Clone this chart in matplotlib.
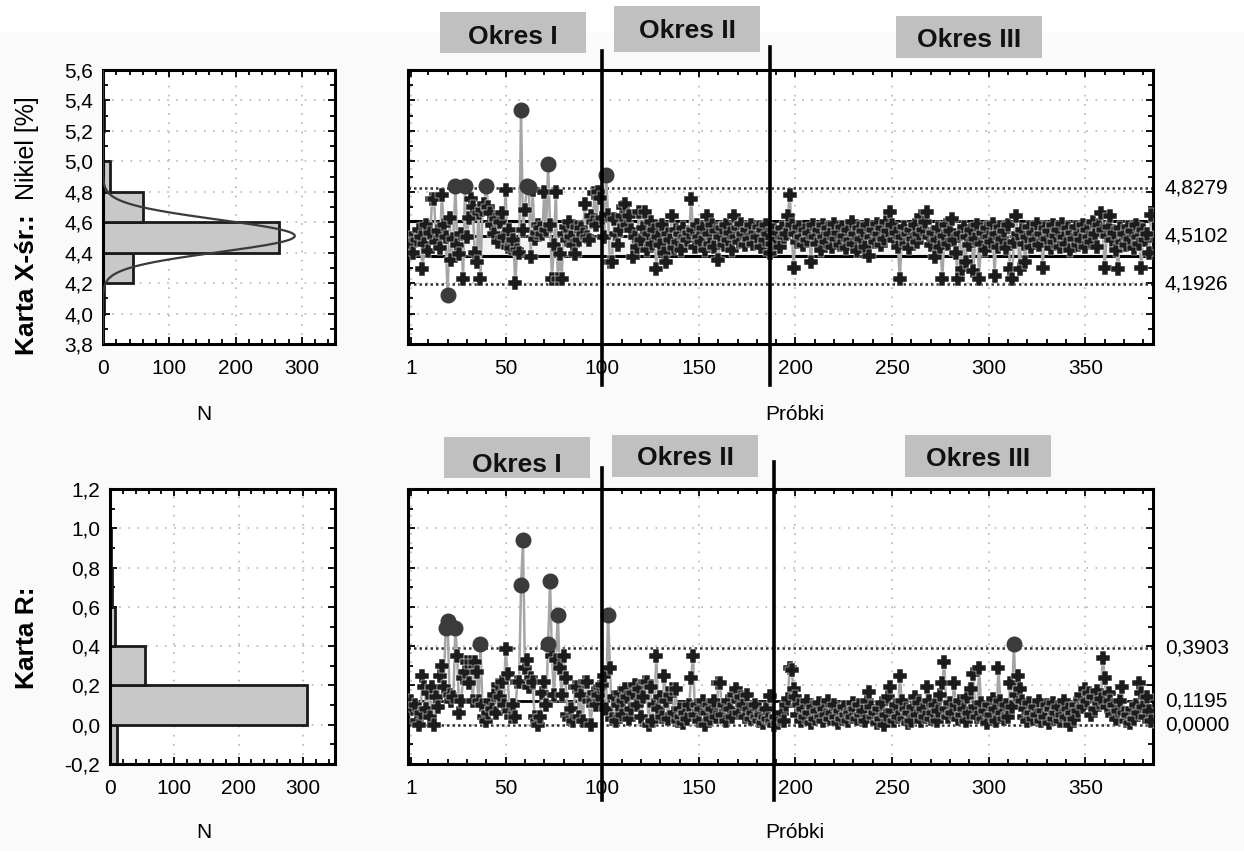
import numpy as np
import matplotlib
matplotlib.use('Agg')
import matplotlib.pyplot as plt
from matplotlib.patches import Rectangle
from matplotlib.lines import Line2D
from matplotlib.path import Path
from matplotlib.transforms import blended_transform_factory as btf
from matplotlib.ticker import MultipleLocator, FixedLocator, FuncFormatter

plt.rcParams['font.family'] = ['Liberation Sans', 'DejaVu Sans']

# ---------------- data ----------------
xbar = [
    4.45, 4.40, 4.52, 4.48, 4.55, 4.50, 4.29, 4.46, 4.58, 4.41, 4.53, 4.75, 4.75, 4.47, 4.54, 4.43, 4.78, 4.58, 4.50, 4.12,
    4.63, 4.35, 4.49, 4.84, 4.45, 4.39, 4.52, 4.23, 4.84, 4.50, 4.63, 4.75, 4.70, 4.40, 4.34, 4.66, 4.23, 4.68, 4.72, 4.84,
    4.70, 4.66, 4.58, 4.52, 4.62, 4.47, 4.60, 4.66, 4.50, 4.81, 4.44, 4.55, 4.43, 4.48, 4.20, 4.42, 4.40, 5.34, 4.55, 4.68,
    4.84, 4.83, 4.37, 4.81, 4.49, 4.53, 4.58, 4.56, 4.52, 4.80, 4.55, 4.98, 4.58, 4.23, 4.45, 4.80, 4.23, 4.39, 4.23, 4.52,
    4.57, 4.48, 4.60, 4.50, 4.45, 4.39, 4.57, 4.48, 4.56, 4.52, 4.72, 4.50, 4.48, 4.64, 4.60, 4.79, 4.58, 4.80, 4.76, 4.63,
    4.50, 4.91, 4.65, 4.34, 4.34, 4.62, 4.52, 4.45, 4.55, 4.64, 4.70, 4.72, 4.58, 4.64, 4.55, 4.37, 4.50, 4.44, 4.67, 4.48,
    4.56, 4.67, 4.42, 4.52, 4.60, 4.46, 4.55, 4.29, 4.50, 4.45, 4.58, 4.40, 4.34, 4.52, 4.48, 4.64, 4.43, 4.55, 4.47, 4.52,
    4.42, 4.56, 4.50, 4.48, 4.53, 4.75, 4.55, 4.44, 4.58, 4.50, 4.47, 4.56, 4.42, 4.64, 4.52, 4.46, 4.58, 4.44, 4.54, 4.35,
    4.50, 4.56, 4.45, 4.58, 4.48, 4.53, 4.42, 4.64, 4.50, 4.56, 4.47, 4.59, 4.52, 4.45, 4.55, 4.49, 4.58, 4.46, 4.53, 4.50,
    4.57, 4.44, 4.55, 4.48, 4.58, 4.52, 4.40, 4.46, 4.55, 4.49, 4.53, 4.44, 4.56, 4.50, 4.52, 4.64, 4.78, 4.58, 4.30, 4.52,
    4.47, 4.57, 4.50, 4.45, 4.55, 4.48, 4.53, 4.34, 4.58, 4.50, 4.46, 4.55, 4.42, 4.58, 4.50, 4.47, 4.56, 4.52, 4.44, 4.59,
    4.49, 4.53, 4.45, 4.57, 4.51, 4.43, 4.55, 4.48, 4.60, 4.46, 4.52, 4.41, 4.56, 4.49, 4.54, 4.44, 4.58, 4.38, 4.50, 4.55,
    4.47, 4.59, 4.52, 4.45, 4.56, 4.49, 4.60, 4.54, 4.67, 4.58, 4.48, 4.53, 4.44, 4.23, 4.50, 4.57, 4.46, 4.52, 4.43, 4.55,
    4.49, 4.58, 4.47, 4.52, 4.64, 4.55, 4.60, 4.67, 4.50, 4.45, 4.53, 4.37, 4.48, 4.56, 4.44, 4.23, 4.51, 4.58, 4.46, 4.54,
    4.62, 4.48, 4.40, 4.23, 4.52, 4.29, 4.57, 4.34, 4.50, 4.45, 4.55, 4.28, 4.49, 4.58, 4.23, 4.46, 4.53, 4.42, 4.56, 4.50,
    4.47, 4.59, 4.25, 4.52, 4.44, 4.57, 4.49, 4.54, 4.43, 4.58, 4.29, 4.23, 4.47, 4.64, 4.52, 4.29, 4.55, 4.46, 4.34, 4.50,
    4.57, 4.44, 4.53, 4.48, 4.59, 4.45, 4.52, 4.30, 4.56, 4.49, 4.54, 4.43, 4.58, 4.47, 4.51, 4.55, 4.44, 4.59, 4.50, 4.46,
    4.56, 4.42, 4.53, 4.49, 4.57, 4.45, 4.52, 4.48, 4.58, 4.44, 4.55, 4.50, 4.47, 4.60, 4.52, 4.44, 4.58, 4.66, 4.55, 4.30,
    4.51, 4.57, 4.64, 4.48, 4.53, 4.42, 4.29, 4.56, 4.47, 4.52, 4.45, 4.57, 4.49, 4.54, 4.43, 4.58, 4.50, 4.46, 4.30, 4.55,
    4.48, 4.52, 4.40, 4.65,
]

rng = [
    0.12, 0.08, 0.10, 0.02, 0.00, 0.06, 0.25, 0.19, 0.08, 0.16, 0.04, 0.19, 0.00, 0.14, 0.09, 0.25, 0.30, 0.19, 0.49, 0.53,
    0.15, 0.12, 0.14, 0.49, 0.35, 0.06, 0.12, 0.24, 0.27, 0.32, 0.21, 0.32, 0.12, 0.32, 0.27, 0.12, 0.41, 0.10, 0.04, 0.02,
    0.06, 0.12, 0.08, 0.15, 0.06, 0.20, 0.14, 0.22, 0.10, 0.385, 0.26, 0.07, 0.04, 0.10, 0.04, 0.22, 0.22, 0.71, 0.94, 0.29,
    0.33, 0.19, 0.24, 0.22, 0.04, 0.02, 0.00, 0.04, 0.16, 0.22, 0.10, 0.41, 0.73, 0.35, 0.15, 0.33, 0.56, 0.29, 0.15, 0.35,
    0.24, 0.05, 0.03, 0.08, 0.02, 0.19, 0.19, 0.04, 0.15, 0.02, 0.22, 0.22, 0.12, 0.00, 0.12, 0.16, 0.10, 0.15, 0.19, 0.20,
    0.25, 0.08, 0.56, 0.29, 0.03, 0.14, 0.02, 0.10, 0.16, 0.05, 0.12, 0.18, 0.14, 0.03, 0.08, 0.16, 0.20, 0.10, 0.18, 0.04,
    0.14, 0.22, 0.22, 0.00, 0.19, 0.02, 0.10, 0.35, 0.08, 0.14, 0.04, 0.25, 0.12, 0.03, 0.15, 0.18, 0.06, 0.18, 0.02, 0.08,
    0.04, 0.01, 0.06, 0.03, 0.10, 0.24, 0.35, 0.05, 0.10, 0.02, 0.08, 0.12, 0.00, 0.06, 0.10, 0.03, 0.08, 0.12, 0.04, 0.21,
    0.21, 0.05, 0.10, 0.02, 0.12, 0.08, 0.04, 0.15, 0.18, 0.12, 0.06, 0.14, 0.10, 0.04, 0.15, 0.08, 0.03, 0.06, 0.10, 0.04,
    0.02, 0.05, 0.01, 0.04, 0.08, 0.03, 0.145, 0.02, 0.00, 0.04, 0.01, 0.03, 0.06, 0.02, 0.10, 0.13, 0.29, 0.28, 0.18, 0.14,
    0.05, 0.10, 0.02, 0.08, 0.04, 0.12, 0.06, 0.01, 0.09, 0.03, 0.07, 0.11, 0.04, 0.02, 0.08, 0.05, 0.12, 0.03, 0.06, 0.10,
    0.04, 0.01, 0.07, 0.03, 0.09, 0.05, 0.02, 0.06, 0.04, 0.11, 0.08, 0.03, 0.10, 0.05, 0.07, 0.02, 0.12, 0.165, 0.09, 0.04,
    0.06, 0.01, 0.08, 0.03, 0.11, 0.00, 0.05, 0.14, 0.19, 0.07, 0.02, 0.10, 0.04, 0.25, 0.12, 0.03, 0.08, 0.01, 0.06, 0.02,
    0.09, 0.14, 0.05, 0.11, 0.02, 0.08, 0.04, 0.19, 0.12, 0.03, 0.06, 0.10, 0.02, 0.07, 0.15, 0.21, 0.32, 0.08, 0.04, 0.11,
    0.06, 0.21, 0.10, 0.03, 0.12, 0.05, 0.08, 0.02, 0.14, 0.06, 0.18, 0.26, 0.09, 0.04, 0.29, 0.11, 0.03, 0.07, 0.01, 0.10,
    0.05, 0.13, 0.08, 0.02, 0.29, 0.12, 0.06, 0.03, 0.10, 0.04, 0.21, 0.09, 0.41, 0.15, 0.25, 0.18, 0.12, 0.04, 0.08, 0.02,
    0.11, 0.06, 0.03, 0.09, 0.05, 0.12, 0.02, 0.07, 0.04, 0.10, 0.01, 0.08, 0.11, 0.03, 0.06, 0.09, 0.02, 0.05, 0.12, 0.04,
    0.08, 0.00, 0.06, 0.03, 0.10, 0.07, 0.13, 0.15, 0.09, 0.18, 0.12, 0.16, 0.05, 0.14, 0.08, 0.17, 0.11, 0.13, 0.34, 0.24,
    0.09, 0.16, 0.12, 0.05, 0.10, 0.03, 0.07, 0.12, 0.19, 0.06, 0.02, 0.05, 0.01, 0.08, 0.03, 0.10, 0.06, 0.21, 0.16, 0.09,
    0.04, 0.14, 0.07, 0.02,
]

xbar_ucl, xbar_cl, xbar_lcl = 4.8279, 4.5102, 4.1926
r_ucl, r_cl, r_lcl = 0.3903, 0.1195, 0.0000
xbar_band = (4.375, 4.605)

xbar_hist_edges = [4.0, 4.2, 4.4, 4.6, 4.8, 5.0, 5.2]
xbar_hist_counts = [1, 45, 265, 61, 11, 0, 1]
r_hist_edges = [-0.2, 0.0, 0.2, 0.4, 0.6, 0.8]
r_hist_counts = [11, 306, 54, 7, 3, 1]

period_labels = ['Okres I', 'Okres II', 'Okres III']
top_dividers = [100, 187]
bot_dividers = [100, 189]
sample_ticks = [1, 50, 100, 150, 200, 250, 300, 350]

# ---------------- figure ----------------
W, H = 1244, 851
fig = plt.figure(figsize=(W / 100, H / 100), dpi=100, facecolor='#fafafa')


def fx(px):
    return px / W


def fy(py):
    return 1 - py / H


def box(l, t, r, b):
    return [fx(l), fy(b), (r - l) / W, (b - t) / H]


fig.patches.append(Rectangle((0, fy(32)), 1, 32 / H, transform=fig.transFigure,
                             facecolor='white', edgecolor='none', zorder=0))

# fat plus marker (Statistica-like)
a = 0.42
fat_plus = Path([(-a, 1), (a, 1), (a, a), (1, a), (1, -a), (a, -a), (a, -1), (-a, -1),
                 (-a, -a), (-1, -a), (-1, a), (-a, a), (-a, 1)], closed=True)

ax_h1 = fig.add_axes(box(103, 70, 335, 344))
ax_m1 = fig.add_axes(box(408, 70, 1153, 344))
ax_h2 = fig.add_axes(box(110, 489, 335, 764))
ax_m2 = fig.add_axes(box(408, 489, 1153, 764))

comma1 = FuncFormatter(lambda v, p: f"{v:.1f}".replace('.', ','))
intfmt = FuncFormatter(lambda v, p: f"{int(round(v))}")

grid_kw = dict(color='#b5b5b5', lw=1.2, linestyle=(0, (1, 4.5)))


def style(ax):
    for s in ax.spines.values():
        s.set_linewidth(2.2)
        s.set_color('black')
    ax.tick_params(which='both', direction='in', top=True, right=True,
                   labelsize=15, width=1.3, colors='black')
    ax.tick_params(which='major', length=5)
    ax.tick_params(which='minor', length=3.5)
    ax.tick_params(axis='x', pad=11)
    ax.tick_params(axis='y', pad=7)
    ax.grid(True, which='major', **grid_kw)
    ax.set_axisbelow(True)
    ax.set_facecolor('white')


def hist_panel(ax, edges, counts, ylim, curve=None):
    ax.barh(edges, counts, height=0.2, align='edge', color='#c8c8c8',
            edgecolor='#1a1a1a', lw=2, zorder=2)
    ax.set_xlim(0, 350)
    ax.set_ylim(*ylim)
    ax.xaxis.set_major_locator(FixedLocator([0, 100, 200, 300]))
    ax.xaxis.set_minor_locator(MultipleLocator(20))
    ax.yaxis.set_major_locator(MultipleLocator(0.2))
    ax.yaxis.set_minor_locator(MultipleLocator(0.1))
    ax.yaxis.set_major_formatter(comma1)
    ax.xaxis.set_major_formatter(intfmt)
    style(ax)
    if curve is not None:
        mu, sd, n = curve
        yy = np.linspace(ylim[0], ylim[1], 600)
        xx = n * 0.2 * np.exp(-0.5 * ((yy - mu) / sd) ** 2) / (sd * np.sqrt(2 * np.pi))
        ax.plot(xx, yy, color='#3a3a3a', lw=1.6, zorder=3)


def main_panel(ax, data, ucl, cl, lcl, ylim, band=None, dividers=None, div_y=None):
    d = np.asarray(data, dtype=float)
    x = np.arange(1, len(d) + 1)
    ax.set_xlim(-0.5, 385)
    ax.set_ylim(*ylim)
    ax.xaxis.set_major_locator(FixedLocator(sample_ticks))
    ax.xaxis.set_minor_locator(MultipleLocator(10))
    ax.xaxis.set_major_formatter(intfmt)
    ax.yaxis.set_major_locator(MultipleLocator(0.2))
    ax.yaxis.set_minor_locator(MultipleLocator(0.1))
    style(ax)
    ax.tick_params(labelleft=False)
    if band is not None:
        ax.axhspan(band[0], band[1], facecolor='#f3f3f3', edgecolor='black', lw=2.2, zorder=1.5)
    ax.axhline(ucl, color='#303030', lw=1.8, linestyle=(0, (1, 1.2)), zorder=1.6)
    ax.axhline(lcl, color='#303030', lw=1.8, linestyle=(0, (1, 1.2)), zorder=1.6)
    ax.axhline(cl, color='black', lw=2, zorder=1.7)
    ax.plot(x, d, color='#a5a5a5', lw=1.8, zorder=3)
    ok = (d <= ucl) & (d >= lcl)
    ax.plot(x[ok], d[ok], ls='none', marker=fat_plus, ms=10, mfc='#1c1c1c', mec='white',
            mew=0.35, zorder=4)
    ax.plot(x[~ok], d[~ok], ls='none', marker='o', ms=10.5, mfc='#3b3b3b', mec='#3b3b3b',
            zorder=5)
    tr = btf(ax.transAxes, ax.transData)
    for v in (ucl, cl, lcl):
        ax.text(1.016, v, f"{v:.4f}".replace('.', ','), transform=tr, ha='left',
                va='center', fontsize=15)
    trd = btf(ax.transData, fig.transFigure)
    for xv, (y0, y1) in zip(dividers, div_y):
        fig.lines.append(Line2D([xv, xv], [fy(y1), fy(y0)], transform=trd, color='black',
                                lw=2.6, zorder=10))


hist_panel(ax_h1, xbar_hist_edges, xbar_hist_counts, (3.8, 5.6),
           curve=(xbar_cl, (xbar_ucl - xbar_cl) / 3, sum(xbar_hist_counts)))
hist_panel(ax_h2, r_hist_edges, r_hist_counts, (-0.2, 1.2))

main_panel(ax_m1, xbar, xbar_ucl, xbar_cl, xbar_lcl, (3.8, 5.6), band=xbar_band,
           dividers=top_dividers, div_y=[(51, 385), (47, 385)])
main_panel(ax_m2, rng, r_ucl, r_cl, r_lcl, (-0.2, 1.2),
           dividers=bot_dividers, div_y=[(468, 800), (462, 800)])

# axis titles
for yy in (415, 832):
    fig.text(fx(204), fy(yy), 'N', ha='center', va='center', fontsize=15)
    fig.text(fx(795), fy(yy), 'Próbki', ha='center', va='center', fontsize=15)

fig.text(fx(27), fy(355), 'Karta X-śr.:', rotation=90, ha='center', va='bottom',
         fontsize=19, fontweight='bold')
fig.text(fx(27), fy(200), 'Nikiel [%]', rotation=90, ha='center', va='bottom',
         fontsize=18)
fig.text(fx(27), fy(638), 'Karta R:', rotation=90, ha='center', va='center',
         fontsize=19, fontweight='bold')

# period boxes
period_boxes = [
    [(440, 12, 586, 53), (614, 6, 760, 52), (896, 16, 1042, 58)],
    [(444, 437, 590, 478), (612, 435, 758, 477), (905, 435, 1051, 477)],
]
period_text_y = [[37, 31, 40], [465, 458, 459]]
for boxes, tys in zip(period_boxes, period_text_y):
    for lab, (l, t, r, b), ty in zip(period_labels, boxes, tys):
        rect = Rectangle((fx(l), fy(b)), (r - l) / W, (b - t) / H, transform=fig.transFigure,
                         facecolor='#c0c0c0', edgecolor='none', zorder=8)
        fig.patches.append(rect)
        t_ = fig.text(fx((l + r) / 2), fy(ty), lab, ha='center', va='center', fontsize=19,
                      fontweight='bold', color='#111111', zorder=9)
        t_.set_clip_path(rect)

fig.savefig('out.png', dpi=100, facecolor=fig.get_facecolor())
